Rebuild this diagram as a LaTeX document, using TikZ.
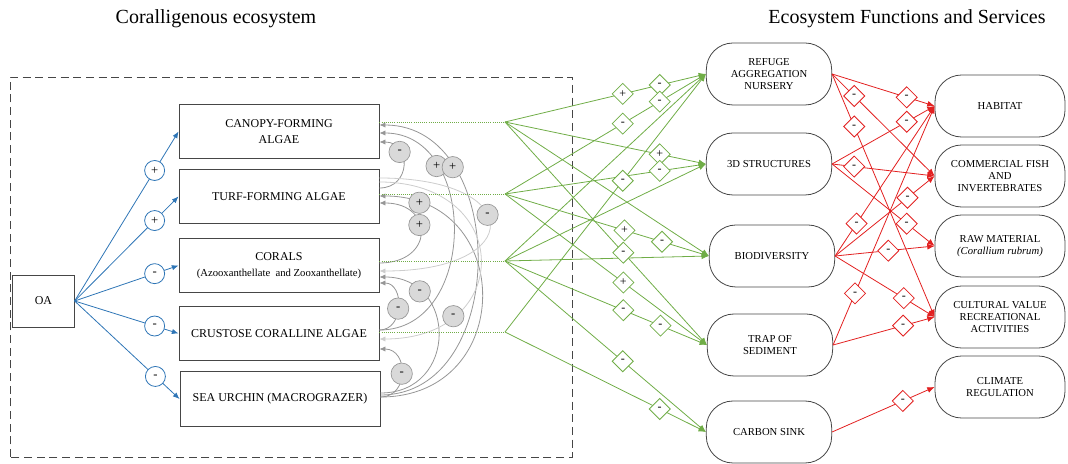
\documentclass[tikz,border=0pt]{standalone}
\usepackage{fontspec}
\setmainfont{Liberation Serif}
\usepackage{xcolor}
\usepackage{tikz}
\usetikzlibrary{shapes.geometric, arrows.meta, positioning, calc}

\definecolor{oablue}{RGB}{46,117,182}
\definecolor{fungreen}{RGB}{112,173,71}
\definecolor{servred}{RGB}{226,32,32}
\definecolor{arcgray}{RGB}{150,150,150}
\definecolor{arclight}{RGB}{205,205,205}
\definecolor{signfill}{RGB}{217,217,217}
\definecolor{frame}{RGB}{70,70,70}

\tikzset{
    sppbox/.style={draw=frame, line width=0.7pt, minimum width=150pt, minimum height=41pt,
        align=center, font=\fontsize{9}{12}\selectfont},
    oabox/.style={draw=frame, line width=0.7pt, minimum width=46pt, minimum height=39pt,
        font=\fontsize{9}{11}\selectfont},
    funbox/.style={draw=frame, line width=0.6pt, rounded corners=20pt, minimum width=94pt,
        minimum height=46.5pt, align=center, font=\fontsize{8}{8.8}\selectfont},
    serbox/.style={funbox, minimum width=97.5pt},
    bsign/.style={circle, draw=oablue, fill=white, line width=0.6pt, minimum size=15pt,
        inner sep=0pt, font=\fontsize{9.5}{9.5}\selectfont},
    gsign/.style={circle, draw=arcgray, fill=signfill, line width=0.5pt, minimum size=16pt,
        inner sep=0pt, font=\fontsize{9.5}{9.5}\selectfont},
    fsign/.style={diamond, draw=fungreen, fill=white, line width=0.6pt, minimum size=16pt,
        inner sep=0pt, font=\fontsize{9}{9}\selectfont},
    rsign/.style={fsign, draw=servred},
    oalink/.style={draw=oablue, line width=0.6pt, -{Latex[length=5pt,width=4pt]}},
    arclink/.style={draw=arcgray, line width=0.6pt, -{Latex[length=4.5pt,width=4pt]}},
    arclite/.style={arclink, draw=arclight},
    funlink/.style={draw=fungreen, line width=0.6pt, -{Latex[length=5.5pt,width=4.5pt]}},
    fundot/.style={draw=fungreen, line width=0.6pt, densely dotted},
    serlink/.style={draw=servred, line width=0.6pt, -{Latex[length=5.5pt,width=4.5pt]}},
}

\begin{document}
\begin{tikzpicture}[x=0.75pt, y=0.75pt]
    \useasboundingbox (0,0) rectangle (1068,464);

    % titles
    \node[font=\fontsize{15}{18}\selectfont] (ttleco) at (216,445) {Coralligenous ecosystem};
    \node[font=\fontsize{15}{18}\selectfont] (ttlserv) at (907,445) {Ecosystem Functions and Services};

    % ecosystem frame
    \draw[draw=frame, line width=0.7pt, dash pattern=on 6pt off 3.5pt] (10,7) rectangle (572,387);

    % ecosystem components
    \node[oabox] (oa) at (43.5,163) {OA};
    \node[sppbox] (canopy) at (279,332.5) {CANOPY-FORMING\\ALGAE};
    \node[sppbox] (turf) at (279,267.5) {TURF-FORMING ALGAE};
    \node[sppbox] (corals) at (279,198.5) {CORALS\\{\fontsize{8}{10}\selectfont (Azooxanthellate\ \ and Zooxanthellate)}};
    \node[sppbox] (cca) at (279,130.5) {CRUSTOSE CORALLINE ALGAE};
    \node[sppbox] (urchin) at (280,65) {SEA URCHIN (MACROGRAZER)};

    % functions
    \node[funbox] (refuge) at (769,390) {REFUGE\\AGGREGATION\\NURSERY};
    \node[funbox] (struct) at (769,300) {3D STRUCTURES};
    \node[funbox] (biodiv) at (772,208) {BIODIVERSITY};
    \node[funbox] (trap) at (770,119) {TRAP OF\\SEDIMENT};
    \node[funbox] (sink) at (769,32) {CARBON SINK};

    % services
    \node[serbox] (habitat) at (1000,358) {HABITAT};
    \node[serbox] (fish) at (1000,288) {COMMERCIAL FISH\\AND\\INVERTEBRATES};
    \node[serbox] (raw) at (1000,218) {RAW MATERIAL\\\textit{(Corallium rubrum)}};
    \node[serbox] (culture) at (1000,147) {CULTURAL VALUE\\RECREATIONAL\\ACTIVITIES};
    \node[serbox] (climate) at (1000,77) {CLIMATE\\REGULATION};

    % OA effects
    \foreach \tgt/\sgn in {canopy/+, turf/+, corals/-, cca/-, urchin/-}
        \draw[oalink] (oa.east) -- node[bsign, pos=0.77] {\sgn} (\tgt.west);

    % interactions among components
    \draw[arclink] ($(turf.east)+(0,8.5)$) .. controls +(32,0) and +(32,0) .. ($(canopy.east)+(0,-10.5)$) coordinate[pos=0.70] (g1);
    \draw[arclink] ($(cca.east)+(0,3.5)$) .. controls +(99,0) and +(99,0) .. ($(canopy.east)+(0,-1.5)$) coordinate[pos=0.74] (g2);
    \draw[arclink] ($(urchin.east)+(0,4)$) .. controls +(130,0) and +(130,0) .. ($(canopy.east)+(0,6.5)$) coordinate[pos=0.75] (g3);
    \draw[arclink] ($(urchin.east)+(0,2)$) .. controls +(136,0) and +(136,0) .. ($(turf.east)+(0,0.5)$) coordinate[pos=0.89] (g4);
    \draw[arclink] ($(corals.east)+(0,2.5)$) .. controls +(55,0) and +(55,0) .. ($(turf.east)+(0,-6.5)$) coordinate[pos=0.59] (g5);
    \draw[arclite] ($(turf.east)+(0,18.5)$) .. controls +(147,0) and +(147,0) .. ($(corals.east)+(0,-5.5)$) coordinate[pos=0.43] (g6);
    \draw[arclink] ($(urchin.east)+(0,6)$) .. controls +(78,0) and +(78,0) .. ($(corals.east)+(0,-11.5)$) coordinate[pos=0.78] (g7);
    \draw[arclink] ($(cca.east)+(0,3.5)$) .. controls +(25,0) and +(25,0) .. ($(corals.east)+(0,-17.5)$) coordinate[pos=0.47] (g8);
    \draw[arclite] ($(turf.east)+(0,14.5)$) .. controls +(135,0) and +(135,0) .. ($(cca.east)+(0,-5.5)$) coordinate[pos=0.76] (g9);
    \draw[arclink] ($(urchin.east)+(0,2)$) .. controls +(29,0) and +(29,0) .. ($(cca.east)+(0,-15.5)$) coordinate[pos=0.49] (g10);

    % components to functions
    \coordinate (j1) at (505,342);
    \coordinate (j2) at (505,270);
    \coordinate (j3) at (505,203);
    \coordinate (j4) at (505,132);
    \draw[fundot] (canopy.east |- j1) -- (j1);
    \draw[fundot] (turf.east |- j2) -- (j2);
    \draw[fundot] (corals.east |- j3) -- (j3);
    \draw[fundot] (cca.east |- j4) -- (j4);
    \foreach \src/\tgt in {j1/refuge, j1/struct, j1/biodiv, j1/trap, j2/refuge, j2/struct, j2/biodiv,
        j2/trap, j3/refuge, j3/struct, j3/biodiv, j3/trap, j3/sink, j4/refuge, j4/sink}
        \draw[funlink] (\src) -- (\tgt.west);

    \foreach \spot/\sgn in {g1/-, g2/+, g3/+, g4/+, g5/+, g6/-, g7/-, g8/-, g9/-, g10/-}
        \node[gsign] at (\spot) {\sgn};

    \foreach \src/\tgt/\p/\sgn in {j1/refuge/0.586/+, j1/refuge/0.77/-, j2/refuge/0.586/-,
        j2/refuge/0.77/-, j1/struct/0.77/+, j2/struct/0.77/-, j4/refuge/0.586/-, j2/biodiv/0.586/+,
        j2/biodiv/0.77/-, j1/trap/0.586/-, j2/trap/0.586/+, j3/trap/0.586/-, j3/trap/0.77/-,
        j3/sink/0.586/-, j4/sink/0.77/-}
        \node[fsign] at ($(\src)!\p!(\tgt.west)$) {\sgn};

    % functions to services
    \foreach \src/\tgt in {refuge/habitat, refuge/fish, refuge/culture, struct/habitat, struct/fish,
        struct/raw, biodiv/habitat, biodiv/fish, biodiv/raw, biodiv/culture, trap/habitat,
        trap/culture, sink/climate}
        \draw[serlink] (\src.east) -- (\tgt.west);
    \foreach \src/\tgt/\p in {refuge/habitat/0.728, refuge/fish/0.216, refuge/culture/0.216,
        struct/habitat/0.728, struct/fish/0.216, struct/raw/0.728, biodiv/habitat/0.216,
        biodiv/fish/0.728, biodiv/raw/0.535, biodiv/culture/0.69, trap/habitat/0.216,
        trap/culture/0.69, sink/climate/0.69}
        \node[rsign] at ($(\src.east)!\p!(\tgt.west)$) {-};
\end{tikzpicture}
\end{document}
